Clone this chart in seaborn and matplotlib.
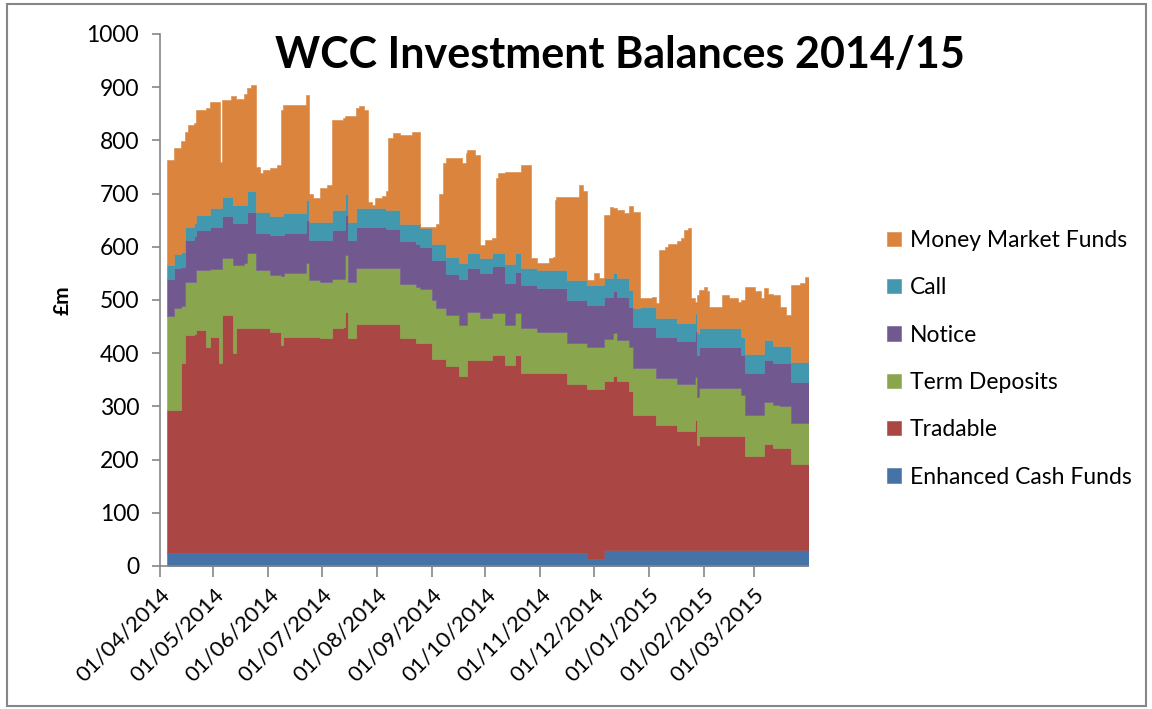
import matplotlib.dates as mdates
import matplotlib.pyplot as plt
import numpy as np
import pandas as pd
import seaborn as sns
from matplotlib.patches import Rectangle

# change dates: each balance holds from its date until the next one
dates = [
    "2014-04-05", "2014-04-09", "2014-04-13", "2014-04-15", "2014-04-17",
    "2014-04-20", "2014-04-21", "2014-04-27", "2014-04-29", "2014-05-04",
    "2014-05-05", "2014-05-06", "2014-05-11", "2014-05-12", "2014-05-14",
    "2014-05-18", "2014-05-20", "2014-05-22", "2014-05-25", "2014-05-27",
    "2014-05-29", "2014-06-02", "2014-06-06", "2014-06-08", "2014-06-09",
    "2014-06-10", "2014-06-22", "2014-06-24", "2014-06-26", "2014-06-30",
    "2014-07-04", "2014-07-07", "2014-07-13", "2014-07-14", "2014-07-16",
    "2014-07-20", "2014-07-22", "2014-07-25", "2014-07-27", "2014-07-29",
    "2014-07-31", "2014-08-04", "2014-08-06", "2014-08-07", "2014-08-10",
    "2014-08-14", "2014-08-21", "2014-08-23", "2014-08-25", "2014-09-01",
    "2014-09-03", "2014-09-05", "2014-09-07", "2014-09-09", "2014-09-16",
    "2014-09-18", "2014-09-20", "2014-09-21", "2014-09-25", "2014-09-28",
    "2014-10-01", "2014-10-05", "2014-10-07", "2014-10-08", "2014-10-12",
    "2014-10-18", "2014-10-21", "2014-10-27", "2014-10-30", "2014-11-06",
    "2014-11-08", "2014-11-09", "2014-11-10", "2014-11-16", "2014-11-23",
    "2014-11-25", "2014-11-27", "2014-12-01", "2014-12-04", "2014-12-07",
    "2014-12-10", "2014-12-12", "2014-12-14", "2014-12-18", "2014-12-21",
    "2014-12-23", "2014-12-27", "2015-01-03", "2015-01-05", "2015-01-07",
    "2015-01-10", "2015-01-12", "2015-01-17", "2015-01-19", "2015-01-21",
    "2015-01-23", "2015-01-25", "2015-01-27", "2015-01-28", "2015-01-29",
    "2015-02-01", "2015-02-03", "2015-02-04", "2015-02-11", "2015-02-15",
    "2015-02-20", "2015-02-22", "2015-02-24", "2015-03-02", "2015-03-05",
    "2015-03-07", "2015-03-09", "2015-03-12", "2015-03-16", "2015-03-19",
    "2015-03-22", "2015-03-27", "2015-03-30", "2015-04-01",
]

enhanced_cash = [
    25, 25, 25, 25, 25, 25, 25, 25, 25, 25,
    25, 25, 25, 25, 25, 25, 25, 25, 25, 25,
    25, 25, 25, 25, 25, 25, 25, 25, 25, 25,
    25, 25, 25, 25, 25, 25, 25, 25, 25, 25,
    25, 25, 25, 25, 25, 25, 25, 25, 25, 25,
    25, 25, 25, 25, 25, 25, 25, 25, 25, 25,
    25, 25, 25, 25, 25, 25, 25, 25, 25, 25,
    25, 25, 25, 25, 25, 25, 14, 14, 14, 30,
    30, 30, 30, 30, 30, 30, 30, 30, 30, 30,
    30, 30, 30, 30, 30, 30, 30, 30, 30, 30,
    30, 30, 30, 30, 30, 30, 30, 30, 30, 30,
    30, 30, 30, 30, 30, 30, 30, 30, 30,
]
tradable = [
    268, 268, 356, 409, 409, 411, 419, 387, 405, 356,
    356, 447, 447, 375, 422, 422, 422, 422, 422, 422,
    422, 414, 414, 390, 405, 405, 405, 405, 405, 404,
    404, 423, 425, 453, 404, 429, 429, 429, 429, 429,
    429, 429, 429, 429, 429, 404, 404, 394, 394, 365,
    365, 365, 365, 350, 332, 332, 332, 362, 362, 362,
    362, 372, 372, 372, 353, 372, 337, 337, 337, 337,
    337, 337, 337, 318, 318, 318, 318, 318, 318, 318,
    318, 327, 317, 317, 298, 254, 254, 254, 235, 235,
    235, 235, 224, 224, 224, 224, 224, 244, 197, 214,
    214, 214, 214, 214, 214, 214, 214, 177, 177, 177,
    199, 199, 191, 191, 191, 162, 162, 162, 162,
]
term_deposits = [
    177, 191, 107, 100, 100, 98, 112, 144, 128, 177,
    177, 106, 106, 166, 119, 122, 141, 141, 109, 109,
    109, 108, 108, 130, 115, 120, 139, 108, 108, 105,
    105, 92, 90, 107, 105, 106, 106, 106, 106, 106,
    106, 106, 106, 106, 106, 101, 101, 106, 101, 110,
    94, 94, 94, 97, 96, 96, 96, 91, 91, 79,
    79, 78, 78, 78, 75, 78, 85, 85, 78, 78,
    78, 78, 78, 76, 76, 76, 80, 80, 80, 78,
    78, 81, 78, 78, 84, 88, 88, 88, 88, 88,
    88, 88, 89, 89, 89, 89, 89, 82, 91, 90,
    90, 90, 90, 90, 90, 90, 77, 77, 77, 77,
    80, 80, 82, 79, 79, 76, 76, 76, 76,
]
notice = [
    70, 76, 74, 79, 79, 86, 76, 76, 80, 80,
    80, 79, 79, 78, 78, 75, 78, 78, 69, 69,
    69, 75, 75, 77, 77, 75, 81, 75, 75, 79,
    79, 92, 92, 75, 79, 78, 78, 78, 78, 78,
    78, 78, 73, 73, 73, 80, 80, 81, 80, 75,
    91, 91, 91, 76, 87, 87, 87, 82, 82, 84,
    84, 88, 88, 88, 78, 78, 81, 81, 82, 82,
    82, 82, 82, 81, 81, 81, 79, 79, 79, 80,
    80, 78, 81, 81, 75, 78, 78, 78, 78, 78,
    78, 78, 79, 79, 79, 79, 79, 85, 79, 78,
    78, 78, 78, 78, 78, 78, 76, 78, 78, 78,
    78, 78, 78, 81, 81, 78, 78, 78, 78,
]
call = [
    25, 26, 28, 25, 25, 25, 28, 28, 34, 34,
    34, 37, 37, 35, 35, 35, 38, 38, 41, 41,
    41, 35, 35, 35, 41, 38, 38, 34, 34, 34,
    34, 37, 37, 40, 34, 34, 34, 34, 34, 34,
    34, 34, 36, 36, 36, 33, 33, 37, 35, 31,
    31, 31, 31, 33, 29, 29, 29, 28, 28, 28,
    28, 25, 25, 25, 37, 35, 32, 32, 34, 34,
    34, 34, 34, 38, 38, 38, 37, 37, 37, 35,
    35, 34, 35, 35, 32, 34, 36, 36, 36, 36,
    36, 36, 35, 35, 35, 35, 35, 34, 40, 35,
    35, 35, 35, 35, 35, 35, 34, 36, 36, 36,
    37, 37, 33, 33, 33, 38, 38, 38, 38,
]
money_market = [
    198, 200, 208, 178, 191, 188, 197, 200, 201, 200,
    88, 182, 189, 204, 199, 209, 194, 200, 84, 72,
    78, 91, 97, 200, 204, 204, 197, 53, 44, 63,
    69, 169, 173, 145, 198, 188, 193, 186, 13, 7,
    19, 23, 35, 135, 144, 167, 173, 173, 3, 32,
    37, 94, 151, 185, 197, 188, 207, 194, 185, 25,
    35, 28, 141, 150, 173, 153, 194, 18, 13, 22,
    25, 132, 138, 156, 178, 167, 10, 22, 13, 119,
    134, 122, 128, 122, 158, 182, 17, 20, 27, 127,
    133, 139, 153, 159, 175, 178, 46, 22, 73, 72,
    77, 69, 40, 62, 56, 50, 69, 127, 118, 105,
    98, 88, 95, 73, 58, 144, 147, 160, 160,
]

series_names = [
    "Enhanced Cash Funds",
    "Tradable",
    "Term Deposits",
    "Notice",
    "Call",
    "Money Market Funds",
]
colours = ["#4572A7", "#AA4643", "#89A54E", "#71588F", "#4198AF", "#DB843D"]

df = pd.DataFrame(
    dict(
        zip(
            series_names,
            [enhanced_cash, tradable, term_deposits, notice, call, money_market],
        )
    ),
    index=pd.to_datetime(dates),
)
tops = df.cumsum(axis=1)

sns.set_theme(style="white")
plt.rcParams["font.family"] = ["Lato", "DejaVu Sans"]
plt.rcParams["text.color"] = "black"
plt.rcParams["xtick.color"] = "black"
plt.rcParams["ytick.color"] = "black"

fig = plt.figure(figsize=(11.52, 7.09), dpi=100)
ax = fig.add_axes([0.1389, 0.2017, 0.5625, 0.7504])

bottom = np.zeros(len(df))
for name, colour in zip(series_names, colours):
    top = tops[name].to_numpy()
    ax.fill_between(
        df.index,
        bottom,
        top,
        step="post",
        facecolor=colour,
        edgecolor=colour,
        lw=0.4,
        label=name,
    )
    bottom = top

ax.set_ylim(0, 1000)
ax.set_yticks(np.arange(0, 1001, 100))
ax.set_xlim(pd.Timestamp("2014-04-01"), pd.Timestamp("2015-03-31 14:00"))
ax.xaxis.set_major_locator(mdates.MonthLocator())
ax.xaxis.set_major_formatter(mdates.DateFormatter("%d/%m/%Y"))

for side in ["top", "right"]:
    ax.spines[side].set_visible(False)
for side in ["left", "bottom"]:
    ax.spines[side].set_color("#868686")
    ax.spines[side].set_linewidth(1.2)

ax.tick_params(axis="y", direction="out", length=6, width=1.2, color="#868686",
               labelcolor="black", labelsize=16.5, pad=9, left=True)
ax.tick_params(axis="x", direction="out", length=8, width=1.2, color="#868686",
               labelcolor="black", labelsize=16, pad=5, bottom=True)
plt.setp(ax.get_xticklabels(), rotation=45, ha="right", rotation_mode="anchor")

fig.text(0.054, 0.577, "£m", rotation=90, fontsize=15, fontweight="bold",
         ha="center", va="center")
fig.text(0.538, 0.922, "WCC Investment Balances 2014/15", fontsize=31,
         fontweight="bold", ha="center", va="center")

handles, labels = ax.get_legend_handles_labels()
fig.legend(
    handles[::-1],
    labels[::-1],
    loc="center left",
    bbox_to_anchor=(0.752, 0.494),
    frameon=False,
    fontsize=16.5,
    handlelength=0.6,
    handleheight=0.6,
    handletextpad=0.4,
    labelspacing=1.15,
)

fig.add_artist(Rectangle((7 / 1152, 3 / 709), 1139 / 1152, 702 / 709,
                         transform=fig.transFigure, fill=False,
                         edgecolor="#868686", lw=1.5))

fig.savefig("out.png", dpi=100)
